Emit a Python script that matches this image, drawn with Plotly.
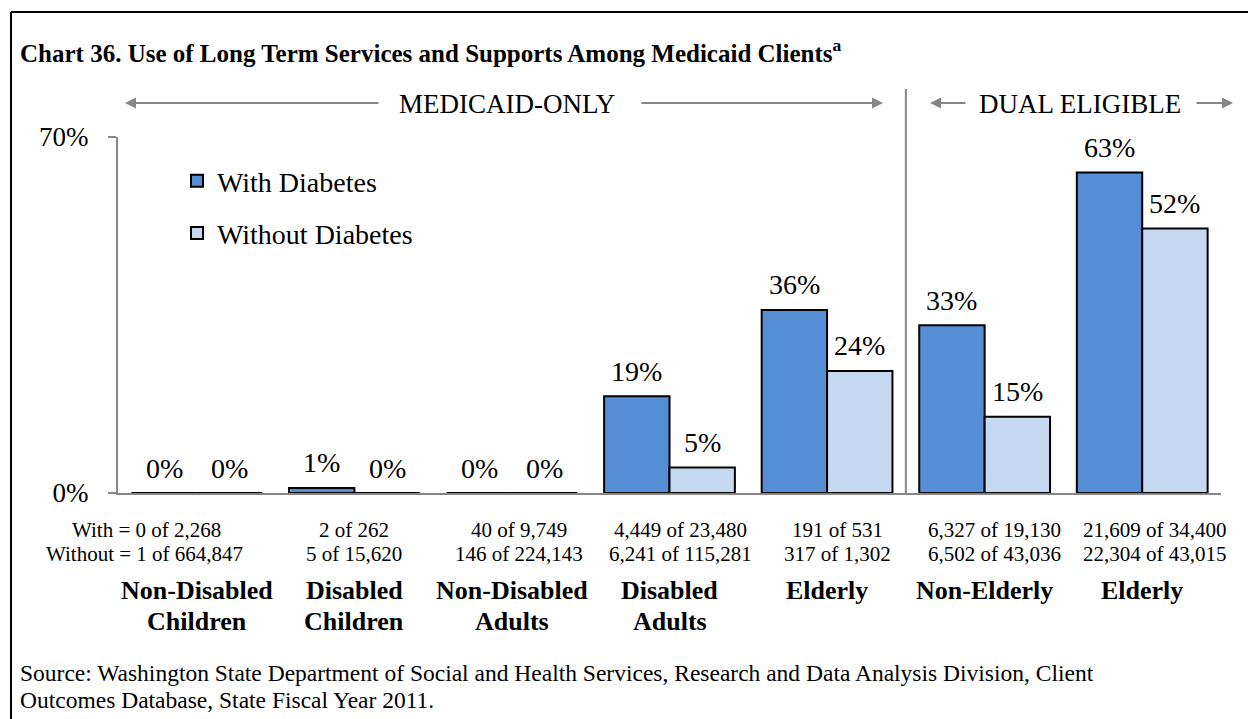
import plotly.graph_objects as go

# Client groups (Medicaid-only first, then dual eligible); two-line names
cat_line1 = ["Non-Disabled", "Disabled", "Non-Disabled", "Disabled", "Elderly", "Non-Elderly", "Elderly"]
cat_line2 = ["Children", "Children", "Adults", "Adults", "", "", ""]

# Percent using long term services and supports
with_pct = [0, 1, 0, 19, 36, 33, 63]
without_pct = [0, 0, 0, 5, 24, 15, 52]

# Counts: users of LTSS out of clients in group
with_users = ["0", "2", "40", "4,449", "191", "6,327", "21,609"]
with_total = ["2,268", "262", "9,749", "23,480", "531", "19,130", "34,400"]
without_users = ["1", "5", "146", "6,241", "317", "6,502", "22,304"]
without_total = ["664,847", "15,620", "224,143", "115,281", "1,302", "43,036", "43,015"]

y_ticks = [0, 70]
y_tick_text = ["0%", "70%"]

WITH_COLOR = "#558ED5"
WITHOUT_COLOR = "#C6D9F1"
GRAY = "#868686"
SERIF = "Liberation Serif, Times New Roman, serif"

W, H = 1248, 719
PL, PR, PT, PB = 118, 1221, 137, 493


def px_x(p):
    return (p - PL) / (PR - PL)


def px_y(p):
    return (PB - p) / (PB - PT)


def txt(size):
    return dict(size=size, color="black", family=SERIF)


x_idx = list(range(len(cat_line1)))
bar_gap = 0.17
half = (1 - bar_gap) / 4  # offset from group centre to each bar centre

fig = go.Figure()
fig.add_trace(go.Bar(x=x_idx, y=with_pct, name="With Diabetes", legendgroup="a",
                     marker=dict(color=WITH_COLOR, line=dict(color="black", width=2))))
fig.add_trace(go.Bar(x=x_idx, y=without_pct, name="Without Diabetes", legendgroup="b",
                     marker=dict(color=WITHOUT_COLOR, line=dict(color="black", width=2))))

ann = []
# value labels above bars
for i in x_idx:
    for v, off in ((with_pct[i], -half), (without_pct[i], half)):
        ann.append(dict(x=i + off, y=v, xref="x", yref="y", text=f"{v}%", showarrow=False,
                        xanchor="center", yanchor="middle", yshift=25, font=txt(28)))

# counts and group names under the axis
count_shift = [-51, 0, 7, 11, 10, 10, 13]
for i in x_idx:
    pre_w = "With = " if i == 0 else ""
    pre_wo = "Without = " if i == 0 else ""
    ann.append(dict(x=i, y=px_y(530), xref="x", yref="paper", xshift=count_shift[i] + (1 if i == 0 else 0),
                    text=f"{pre_w}{with_users[i]} of {with_total[i]}", showarrow=False,
                    xanchor="center", yanchor="middle", font=txt(21)))
    ann.append(dict(x=i, y=px_y(554), xref="x", yref="paper", xshift=count_shift[i] - (1 if i == 0 else 0),
                    text=f"{pre_wo}{without_users[i]} of {without_total[i]}", showarrow=False,
                    xanchor="center", yanchor="middle", font=txt(21)))
    ann.append(dict(x=i, y=px_y(590), xref="x", yref="paper", text=f"<b>{cat_line1[i]}</b>",
                    showarrow=False, xanchor="center", yanchor="middle", font=txt(26)))
    if cat_line2[i]:
        ann.append(dict(x=i, y=px_y(621), xref="x", yref="paper", text=f"<b>{cat_line2[i]}</b>",
                        showarrow=False, xanchor="center", yanchor="middle", font=txt(26)))

# section headers with arrows
ann += [
    dict(x=px_x(507), y=px_y(104), xref="paper", yref="paper", text="MEDICAID-ONLY", showarrow=False,
         xanchor="center", yanchor="middle", font=txt(27)),
    dict(x=px_x(1080), y=px_y(104), xref="paper", yref="paper", text="DUAL ELIGIBLE", showarrow=False,
         xanchor="center", yanchor="middle", font=txt(27)),
]
for tip, tail in ((125, 380), (883, 640), (930, 967), (1233, 1195)):
    ann.append(dict(x=px_x(tip), y=px_y(103), xref="paper", yref="paper", text=" ",
                    font=dict(size=1), showarrow=True, ax=tail - tip, ay=0,
                    arrowhead=2, arrowsize=1.1, arrowwidth=2, arrowcolor=GRAY))

# title and source
ann.append(dict(x=px_x(18), y=px_y(51), xref="paper", yref="paper", xanchor="left", yanchor="middle",
                text="<b>Chart 36. Use of Long Term Services and Supports Among Medicaid Clients<sup>a</sup></b>",
                showarrow=False, font=txt(25)))
ann.append(dict(x=px_x(18), y=px_y(673), xref="paper", yref="paper", xanchor="left", yanchor="middle",
                text="Source: Washington State Department of Social and Health Services, Research and Data Analysis Division, Client",
                showarrow=False, font=txt(23.5)))
ann.append(dict(x=px_x(18), y=px_y(700), xref="paper", yref="paper", xanchor="left", yanchor="middle",
                text="Outcomes Database, State Fiscal Year 2011.",
                showarrow=False, font=txt(23.5)))

shapes = [
    # divider between Medicaid-only and dual eligible groups
    dict(type="line", xref="x", yref="paper", x0=4.5, x1=4.5, y0=0, y1=px_y(89),
         line=dict(color=GRAY, width=2)),
    # frame
    dict(type="line", xref="paper", yref="paper", x0=px_x(11), x1=px_x(11), y0=px_y(12), y1=px_y(725),
         line=dict(color="black", width=2)),
    dict(type="line", xref="paper", yref="paper", x0=px_x(11), x1=px_x(1260), y0=px_y(12), y1=px_y(12),
         line=dict(color="black", width=2)),
]

fig.update_layout(
    width=W, height=H,
    margin=dict(l=PL, r=W - PR, t=PT, b=H - PB, pad=0),
    paper_bgcolor="white", plot_bgcolor="white",
    barmode="group", bargap=bar_gap, bargroupgap=0,
    font=dict(family=SERIF, color="black"),
    showlegend=True,
    legend=dict(x=px_x(177), y=px_y(156), xanchor="left", yanchor="top",
                bgcolor="rgba(0,0,0,0)", font=txt(28),
                tracegroupgap=13, traceorder="grouped"),
    annotations=ann,
    shapes=shapes,
    xaxis=dict(range=[-0.5, len(x_idx) - 0.5], showticklabels=False, ticks="",
               showgrid=False, zeroline=False, showline=True, linecolor=GRAY, linewidth=2),
    yaxis=dict(range=[0, 70], tickvals=y_ticks, ticktext=y_tick_text, showgrid=False,
               zeroline=False, showline=True, linecolor=GRAY, linewidth=2,
               ticks="outside", ticklen=8, tickwidth=2, tickcolor=GRAY,
               tickfont=txt(27), ticklabelstandoff=14),
)

fig.write_html("out.html")
